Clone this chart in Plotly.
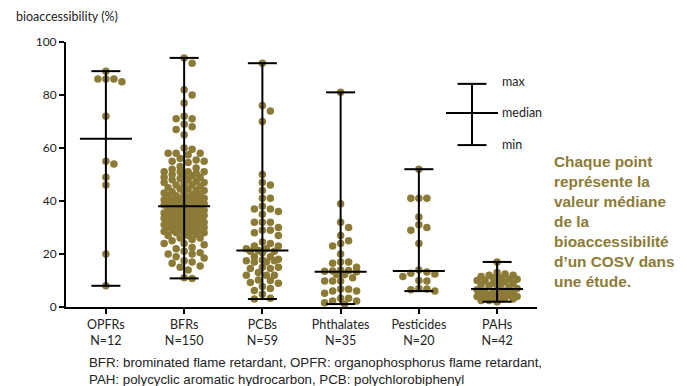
import math
import statistics
import plotly.graph_objects as go

# ---------------- data ----------------
categories = ["OPFRs", "BFRs", "PCBs", "Phthalates", "Pesticides", "PAHs"]
n_labels = ["N=12", "N=150", "N=59", "N=35", "N=20", "N=42"]

opfrs = [89, 86, 86, 86, 85, 72, 55, 54, 49, 46, 20, 8]

bfrs = [94, 92, 82, 80, 77, 72, 71, 71, 69, 68, 67, 65,
        60, 59.5, 58, 58, 58, 57.5, 56, 55.5, 55, 55, 54.5,
        53, 52.5, 52, 51, 51, 51, 51, 50.5, 50, 50,
        49.5, 49, 49, 48.5, 48, 48, 47.5, 47, 47, 46.5, 46, 46, 45.5, 45,
        44.5, 44.5, 44, 44, 43.5, 43, 43, 42.5, 42.5, 42, 42, 41.5, 41.5, 41, 41,
        40.5, 40.5, 40, 40, 40, 39.5, 39.5, 39, 39, 39, 38.5, 38.5, 38.5,
        37.5, 37.5, 37, 37, 37, 36.5, 36.5, 36, 36, 36, 35.5, 35.5, 35, 35, 35,
        34.5, 34.5, 34, 34, 34, 33.5, 33.5, 33, 33, 33, 32.5, 32.5, 32, 32, 32,
        31.5, 31.5, 31, 31, 31, 30.5, 30.5, 30, 30, 30,
        29.5, 29, 29, 29, 28.5, 28.5, 28, 28, 28, 27.5, 27, 27, 26, 26, 25.5, 25,
        24, 24, 23.5, 22.5, 22, 21, 20.5, 20, 20, 19, 18.5, 17.5, 17, 16.5,
        15.5, 15, 14, 11, 10.8]

pcbs = [92, 76, 74, 70, 50, 47, 46, 44, 41, 41, 38, 37, 37, 36, 35, 32, 32, 32,
        30, 29, 29, 28, 27, 24.5, 24, 23, 23, 22, 22, 21.3,
        21, 21, 20.5, 19, 19, 18, 17.7, 17.5, 17.5, 17, 17, 15, 15, 14.5, 14.5,
        13, 12, 12, 12, 10.2, 10, 9.2, 9, 7.7, 7, 6.2, 4.8, 3.3, 3]

phthalates = [81, 39, 32, 30, 27, 25, 24, 23, 20, 17, 17, 16.5, 15, 14, 13.8,
              13.6, 13.5, 13.3, 12.3, 12.3, 11, 9.8, 9.8, 9.8, 6.8, 6.7, 6, 6,
              5.2, 3.3, 3.3, 2.3, 2.3, 1.6, 1.1]

pesticides = [52, 41, 41, 41, 34, 31, 30, 29, 24, 14, 13.2, 12.7, 12.5, 11.5,
              10, 9.8, 7, 6.8, 6.5, 6]

pahs = [17, 13, 12.5, 12, 12, 11.5, 11, 11, 10.5, 10.5, 10, 10, 10, 9.5, 9, 9,
        8.5, 8.5, 8, 7.5, 7, 6.6, 6.5, 6, 6, 5.5, 5.5, 5, 5, 4.5, 4.5, 4, 4, 4,
        3.5, 3.5, 3, 3, 3, 2.5, 2.5, 2]

y_ticks = [0, 20, 40, 60, 80, 100]
y_title = "bioaccessibility (%)"
legend_words = ["max", "median", "min"]
note_text = ("Chaque point<br>représente la<br>valeur médiane<br>de la<br>"
             "bioaccessibilité<br>d’un COSV dans<br>une étude.")
footnote = ("BFR: brominated flame retardant, OPFR: organophosphorus flame retardant,<br>"
            "PAH: polycyclic aromatic hydrocarbon, PCB: polychlorobiphenyl")

series = [opfrs, bfrs, pcbs, phthalates, pesticides, pahs]
for s, lab in zip(series, n_labels):
    assert len(s) == int(lab.split("=")[1]), (lab, len(s))

# ---------------- layout geometry ----------------
W, H = 687, 386
ML, MR, MT, MB = 66, 150, 42, 79
XR = (-0.51, 5.51)
PW = W - ML - MR
PH = H - MT - MB
PX_X = PW / (XR[1] - XR[0])
PX_Y = PH / 100.0

OLIVE = "#8c7b37"
INK = "#222222"
FONT = "Lato"


def swarm_offsets(values, half_px=16, d=7.0, step=4.0):
    order = sorted(range(len(values)), key=lambda i: -values[i])
    cands = [0.0]
    for k in range(1, int(half_px // step) + 1):
        cands += [k * step, -k * step]
    placed = []
    offs = [0.0] * len(values)
    for i in order:
        y = values[i] * PX_Y
        near = [(px, py) for px, py in placed if abs(py - y) < d]
        best, best_d = 0.0, -1.0
        for c in cands:
            md = min((math.hypot(c - px, y - py) for px, py in near), default=1e9)
            if md >= d - 0.01:
                best = c
                break
            if md > best_d:
                best_d, best = md, c
        placed.append((best, y))
        offs[i] = best / PX_X
    return offs


fig = go.Figure()
shapes = []
half_widths = [16, 22, 16, 16, 16, 20]
cap = 14.5 / PX_X
med = 26 / PX_X
for i, (vals, hw) in enumerate(zip(series, half_widths)):
    offs = swarm_offsets(vals, half_px=hw)
    fig.add_trace(go.Scatter(
        x=[i + o for o in offs], y=vals, mode="markers",
        marker=dict(size=7.5, color=OLIVE, line=dict(width=0)),
        cliponaxis=False, showlegend=False, name=categories[i]))
    lo, hi, md = min(vals), max(vals), statistics.median(vals)
    line = dict(color="black", width=2)
    shapes += [
        dict(type="line", x0=i, x1=i, y0=lo, y1=hi, line=line, layer="above"),
        dict(type="line", x0=i - cap, x1=i + cap, y0=hi, y1=hi, line=line, layer="above"),
        dict(type="line", x0=i - cap, x1=i + cap, y0=lo, y1=lo, line=line, layer="above"),
        dict(type="line", x0=i - med, x1=i + med, y0=md, y1=md, line=line, layer="above"),
    ]

# legend glyph (max / median / min)
lx = XR[0] + (472 - ML) / PX_X
l_max, l_med, l_min = 84.2, 73.2, 61.1
line = dict(color="black", width=2)
shapes += [
    dict(type="line", x0=lx, x1=lx, y0=l_min, y1=l_max, line=line),
    dict(type="line", x0=lx - cap, x1=lx + cap, y0=l_max, y1=l_max, line=line),
    dict(type="line", x0=lx - cap, x1=lx + cap, y0=l_min, y1=l_min, line=line),
    dict(type="line", x0=lx - med, x1=lx + med, y0=l_med, y1=l_med, line=line),
]
annotations = []
for word, yy in zip(legend_words, [85.0, 73.3, 61.4]):
    annotations.append(dict(x=lx + 28 / PX_X, y=yy, xref="x", yref="y", text=word,
                            showarrow=False, xanchor="left", yanchor="middle",
                            font=dict(family=FONT, size=12.5, color=INK)))

annotations.append(dict(x=(14 - ML) / PW, y=(H - MB - 16.7) / PH, xref="paper", yref="paper",
                        text=y_title, showarrow=False, xanchor="left", yanchor="middle",
                        font=dict(family=FONT, size=12.5, color=INK)))
annotations.append(dict(x=(552 - ML) / PW, y=(H - MB - 221) / PH, xref="paper", yref="paper",
                        text=note_text, showarrow=False, xanchor="left", yanchor="middle",
                        align="left",
                        font=dict(family="Liberation Sans, Arial", size=15.4, color=OLIVE,
                                  weight="bold")))
annotations.append(dict(x=(87 - ML) / PW, y=(H - MB - 370.5) / PH, xref="paper", yref="paper",
                        text=footnote, showarrow=False, xanchor="left", yanchor="middle",
                        align="left",
                        font=dict(family="Liberation Sans, Arial", size=13.3, color=INK)))

fig.update_layout(
    width=W, height=H, autosize=False,
    margin=dict(l=ML, r=MR, t=MT, b=MB, pad=0),
    paper_bgcolor="white", plot_bgcolor="white",
    shapes=shapes, annotations=annotations,
    xaxis=dict(range=list(XR), tickmode="array", tickvals=list(range(len(categories))),
               ticktext=[f"{c}<br>{n}" for c, n in zip(categories, n_labels)],
               showline=True, linecolor="black", linewidth=1.5,
               ticks="outside", ticklen=5, tickwidth=1.5, tickcolor="black",
               showgrid=False, zeroline=False,
               tickfont=dict(family=FONT, size=12.5, color=INK)),
    yaxis=dict(range=[0, 100], tickmode="array", tickvals=y_ticks,
               showline=True, linecolor="black", linewidth=2,
               ticks="outside", ticklen=5, tickwidth=1.5, tickcolor="black",
               showgrid=False, zeroline=False,
               tickfont=dict(family=FONT, size=12, color=INK)),
)

fig.write_html("out.html",
               config={"displayModeBar": False},
               post_script="document.body.style.margin='0px';"
                           "document.body.style.overflow='hidden';")
